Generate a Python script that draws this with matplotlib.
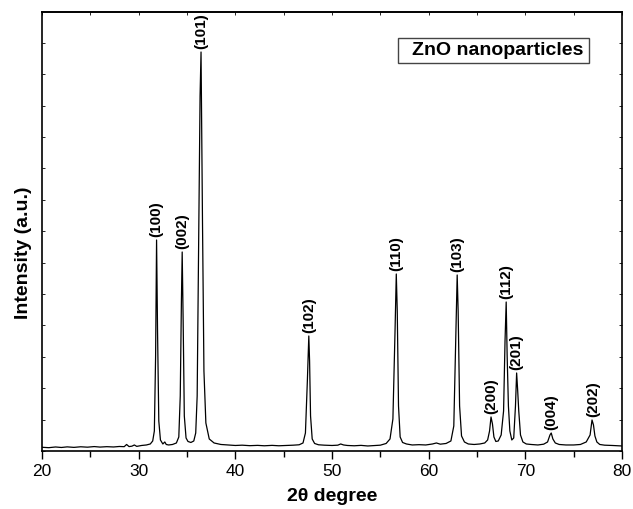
import matplotlib
matplotlib.use("Agg")
import matplotlib.pyplot as plt
from matplotlib.ticker import MultipleLocator
from matplotlib.patches import Rectangle

plt.rcParams['font.family'] = ['Liberation Sans', 'DejaVu Sans']

# XRD pattern (2theta in degrees, intensity in a.u.)
two_theta = [20.0, 20.7, 21.4, 22.0, 22.6, 23.3, 24.0, 24.7, 25.4, 26.0, 26.7, 27.4, 28.0, 28.5,
             28.75, 29.0, 29.3, 29.55, 29.8, 30.3, 30.8, 31.2, 31.45, 31.62, 31.75, 31.85, 31.95,
             32.08, 32.25, 32.5, 32.7, 32.85, 33.1, 33.5, 33.9, 34.15, 34.3, 34.42, 34.5, 34.6,
             34.72, 34.9, 35.1, 35.4, 35.7, 35.9, 36.05, 36.2, 36.35, 36.45, 36.6, 36.75, 36.95,
             37.3, 37.8, 38.5, 39.2, 40.0, 40.7, 41.5, 42.3, 43.0, 43.8, 44.5, 45.3, 46.0, 46.6,
             47.0, 47.25, 47.45, 47.6, 47.68, 47.78, 47.95, 48.2, 48.6, 49.2, 50.0, 50.6, 50.9,
             51.2, 51.6, 52.3, 53.0, 53.7, 54.4, 55.0, 55.6, 56.0, 56.3, 56.52, 56.65, 56.75,
             56.88, 57.05, 57.3, 57.7, 58.3, 59.0, 59.7, 60.4, 60.8, 61.2, 61.8, 62.3, 62.6,
             62.8, 62.95, 63.05, 63.2, 63.4, 63.7, 64.1, 64.7, 65.3, 65.8, 66.1, 66.3, 66.45,
             66.6, 66.75, 66.95, 67.2, 67.5, 67.75, 67.9, 68.02, 68.12, 68.25, 68.4, 68.6, 68.8,
             68.98, 69.1, 69.2, 69.32, 69.5, 69.75, 70.1, 70.6, 71.3, 71.9, 72.3, 72.55, 72.68,
             72.85, 73.1, 73.5, 74.2, 75.0, 75.7, 76.3, 76.7, 76.9, 77.05, 77.2, 77.4, 77.7,
             78.2, 79.0, 79.5, 80.0]
intensity = [3.7, 3.3, 4.0, 3.5, 4.1, 3.6, 4.2, 3.8, 4.4, 3.9, 4.3, 4.0, 4.5, 4.3,
             6.5, 4.4, 4.8, 6.0, 4.6, 5.5, 6.0, 7.0, 10.0, 20.0, 95.0, 211.0, 120.0,
             30.0, 11.0, 7.0, 9.0, 6.5, 6.0, 6.5, 8.0, 14.0, 55.0, 150.0, 199.0, 130.0,
             35.0, 13.0, 9.5, 8.5, 10.0, 18.0, 55.0, 205.0, 355.0, 399.0, 230.0, 80.0, 28.0,
             12.0, 8.0, 6.5, 6.0, 5.5, 5.8, 5.3, 5.6, 5.2, 5.6, 5.2, 5.5, 5.8, 6.2,
             8.0, 18.0, 70.0, 115.0, 90.0, 35.0, 12.0, 7.5, 6.2, 5.8, 5.5, 5.8, 7.0,
             6.0, 5.5, 5.2, 5.6, 5.0, 5.4, 5.8, 7.5, 12.0, 32.0, 120.0, 177.0, 140.0,
             45.0, 14.0, 8.5, 7.0, 6.0, 6.3, 6.0, 7.0, 8.0, 6.8, 7.5, 10.0, 25.0,
             110.0, 176.0, 140.0, 45.0, 15.0, 9.0, 7.0, 6.5, 7.0, 8.0, 11.0, 20.0, 34.0,
             27.0, 14.0, 9.5, 10.0, 16.0, 40.0, 110.0, 149.0, 95.0, 45.0, 20.0, 11.0, 13.0,
             45.0, 78.0, 62.0, 40.0, 16.0, 9.0, 7.0, 6.5, 6.0, 6.8, 9.0, 16.0, 18.0,
             12.0, 8.0, 6.5, 6.0, 6.0, 6.5, 9.0, 16.0, 31.0, 26.0, 15.0, 9.0, 6.5,
             5.8, 5.5, 5.2, 5.0]

# Miller indices of the labelled reflections
hkl = ['(100)', '(002)', '(101)', '(102)', '(110)', '(103)', '(200)', '(112)', '(201)', '(004)', '(202)']
peak_pos = [31.85, 34.5, 36.45, 47.6, 56.65, 63.0, 66.45, 68.02, 69.1, 72.68, 77.05]
peak_int = [211, 199, 399, 115, 177, 176, 34, 149, 78, 18, 31]

fig = plt.figure(figsize=(6.33, 5.09), dpi=100)
ax = fig.add_axes([0.0664, 0.114, 0.9162, 0.8624])

ax.plot(two_theta, intensity, color='black', lw=0.9)

for lab, x, y in zip(hkl, peak_pos, peak_int):
    ax.annotate(lab, xy=(x, y), xytext=(0, 2), textcoords='offset points',
                rotation=90, ha='center', va='bottom', fontsize=11, fontweight='bold',
                annotation_clip=False)

# legend-like caption box
ax.add_patch(Rectangle((0.614, 0.884), 0.329, 0.057, transform=ax.transAxes,
                       facecolor='white', edgecolor='#444444', lw=1.0, zorder=3))
ax.text(0.785, 0.912, 'ZnO nanoparticles', transform=ax.transAxes, ha='center', va='center',
        fontsize=14, fontweight='bold', zorder=4)

ax.set_xlim(20, 80)
ax.set_ylim(0, 439)
ax.xaxis.set_major_locator(MultipleLocator(10))
ax.xaxis.set_minor_locator(MultipleLocator(5))
ax.yaxis.set_major_locator(MultipleLocator(31.4))
ax.tick_params(axis='x', which='major', direction='out', length=6, width=1.0, labelsize=12.5, top=False)
ax.tick_params(axis='x', which='minor', direction='out', length=4, width=1.0, top=False)
ax.tick_params(axis='y', which='major', direction='in', length=2.5, width=0.6, left=True, right=True,
               labelleft=False)
# top spine gets short inward ticks every 5 degrees
secx = ax.secondary_xaxis('top')
secx.xaxis.set_major_locator(MultipleLocator(5))
secx.tick_params(direction='in', length=2.5, width=0.6, labeltop=False)

for sp in ax.spines.values():
    sp.set_linewidth(1.2)
secx.spines['top'].set_linewidth(1.2)

ax.set_xlabel('2θ degree', fontsize=14, fontweight='bold', labelpad=6)
ax.set_ylabel('Intensity (a.u.)', fontsize=14, fontweight='bold')
ax.yaxis.set_label_coords(-0.017, 0.451)

plt.savefig('out.png', dpi=100)
